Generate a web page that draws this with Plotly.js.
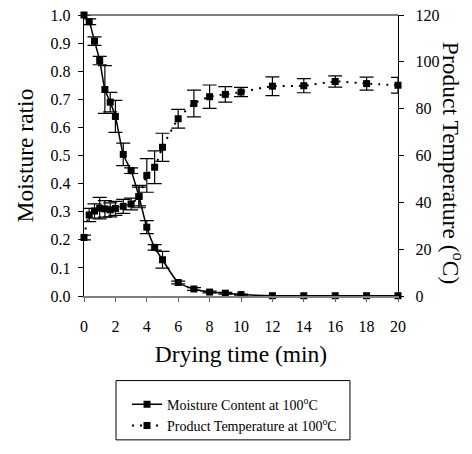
<!DOCTYPE html>
<html>
<head>
<meta charset="utf-8">
<script src="https://cdn.plot.ly/plotly-3.0.1.min.js"></script>
<style>html,body{margin:0;padding:0;background:#fff;}</style>
</head>
<body>
<div id="chart" style="width:472px;height:454px;"></div>
<script>
// Drying time (min)
const time = [0, 0.33, 0.67, 1, 1.33, 1.67, 2, 2.5, 3, 3.5, 4, 4.5, 5, 6, 7, 8, 9, 10, 12, 14, 16, 18, 20];
// Moisture ratio (left axis)
const moisture = [1.0, 0.976, 0.907, 0.838, 0.735, 0.69, 0.639, 0.504, 0.446, 0.354, 0.245, 0.173, 0.129, 0.048, 0.025, 0.014, 0.01, 0.005, 0.001, 0.001, 0.001, 0.001, 0.001];
const moistureErr = [0, 0.01, 0.015, 0.015, 0.085, 0.035, 0.057, 0.04, 0.01, 0.04, 0.023, 0.01, 0.03, 0.005, 0.005, 0.003, 0.003, 0.002, 0, 0, 0, 0, 0];
// Product temperature (degC, right axis)
const temperature = [25, 34.6, 36.3, 37.5, 37.2, 36.8, 37.4, 38.3, 39.3, 42.5, 51.5, 55, 63.5, 75.7, 82.2, 85.1, 86.1, 87.1, 89.6, 89.8, 91.6, 90.7, 90];
const temperatureErr = [1, 2.8, 3, 4.6, 3.5, 3, 3, 3, 2.5, 4, 7.2, 7, 6, 4, 5.7, 5, 3.3, 2, 4, 3, 2.4, 2.8, 3.4];

const serif = "Liberation Serif, Times New Roman, serif";

const traces = [
  {
    x: time, y: moisture, name: "Moisture Content at 100<sup>o</sup>C",
    type: "scatter", mode: "lines+markers", yaxis: "y",
    line: {color: "#000", width: 1.5, shape: "spline", smoothing: 0.6},
    marker: {symbol: "square", size: 7, color: "#000"},
    error_y: {type: "data", array: moistureErr, visible: true, color: "#000", thickness: 1.2, width: 7},
    cliponaxis: false
  },
  {
    x: time, y: temperature, name: "Product Temperature at 100<sup>o</sup>C",
    type: "scatter", mode: "lines+markers", yaxis: "y2",
    line: {color: "#000", width: 2, dash: "2px,6px", shape: "spline", smoothing: 0.6},
    marker: {symbol: "square", size: 7, color: "#000"},
    error_y: {type: "data", array: temperatureErr, visible: true, color: "#000", thickness: 1.2, width: 7},
    cliponaxis: false
  }
];

const layout = {
  width: 472, height: 454,
  margin: {l: 84, r: 74, t: 15, b: 150},
  paper_bgcolor: "#fff", plot_bgcolor: "#fff",
  font: {family: serif, color: "#000", size: 16},
  showlegend: true,
  legend: {
    x: 0.137, y: -0.33, xanchor: "left", yanchor: "top",
    bgcolor: "rgba(0,0,0,0)", borderwidth: 0,
    font: {family: serif, size: 14, color: "#000"},
    tracegroupgap: 0
  },
  xaxis: {
    range: [0, 20], dtick: 2, tick0: 0,
    showline: true, linecolor: "#808080", linewidth: 1.5,
    ticks: "outside", ticklen: 4, tickcolor: "#606060", tickwidth: 1,
    showgrid: false, zeroline: false,
    tickfont: {family: serif, size: 16},
    ticklabelstandoff: 11,
    title: {text: "Drying time (min)", font: {family: serif, size: 23.5}, standoff: 12}
  },
  yaxis: {
    range: [0, 1], dtick: 0.1, tick0: 0, tickformat: ".1f",
    showline: true, linecolor: "#000", linewidth: 1.2,
    ticks: "outside", ticklen: 5, tickcolor: "#000",
    showgrid: false, zeroline: false,
    tickfont: {family: serif, size: 16},
    ticklabelstandoff: 4,
    title: {text: "Moisture ratio", font: {family: serif, size: 23.5}, standoff: 10}
  },
  yaxis2: {
    range: [0, 120], dtick: 20, tick0: 0,
    overlaying: "y", side: "right",
    showline: true, linecolor: "#000", linewidth: 1.2,
    ticks: "outside", ticklen: 5, tickcolor: "#000",
    showgrid: false, zeroline: false,
    tickfont: {family: serif, size: 16},
    ticklabelstandoff: 8
  },
  shapes: [
    {type: "line", xref: "paper", yref: "paper", x0: 0, x1: 1, y0: 1, y1: 1, line: {color: "#000", width: 1.2}},
    {type: "rect", xref: "paper", yref: "paper", x0: 0.102, x1: 0.847, y0: -0.512, y1: -0.301, line: {color: "#000", width: 1}}
  ],
  annotations: [
    {text: "Product Temperature (<sup>o</sup>C)", xref: "paper", yref: "paper", x: 1.175, y: 0.474,
     showarrow: false, textangle: 90, font: {family: serif, size: 23.5, color: "#000"}, xanchor: "center", yanchor: "middle"}
  ]
};

Plotly.newPlot("chart", traces, layout, {displayModeBar: false, staticPlot: true});
</script>
</body>
</html>
